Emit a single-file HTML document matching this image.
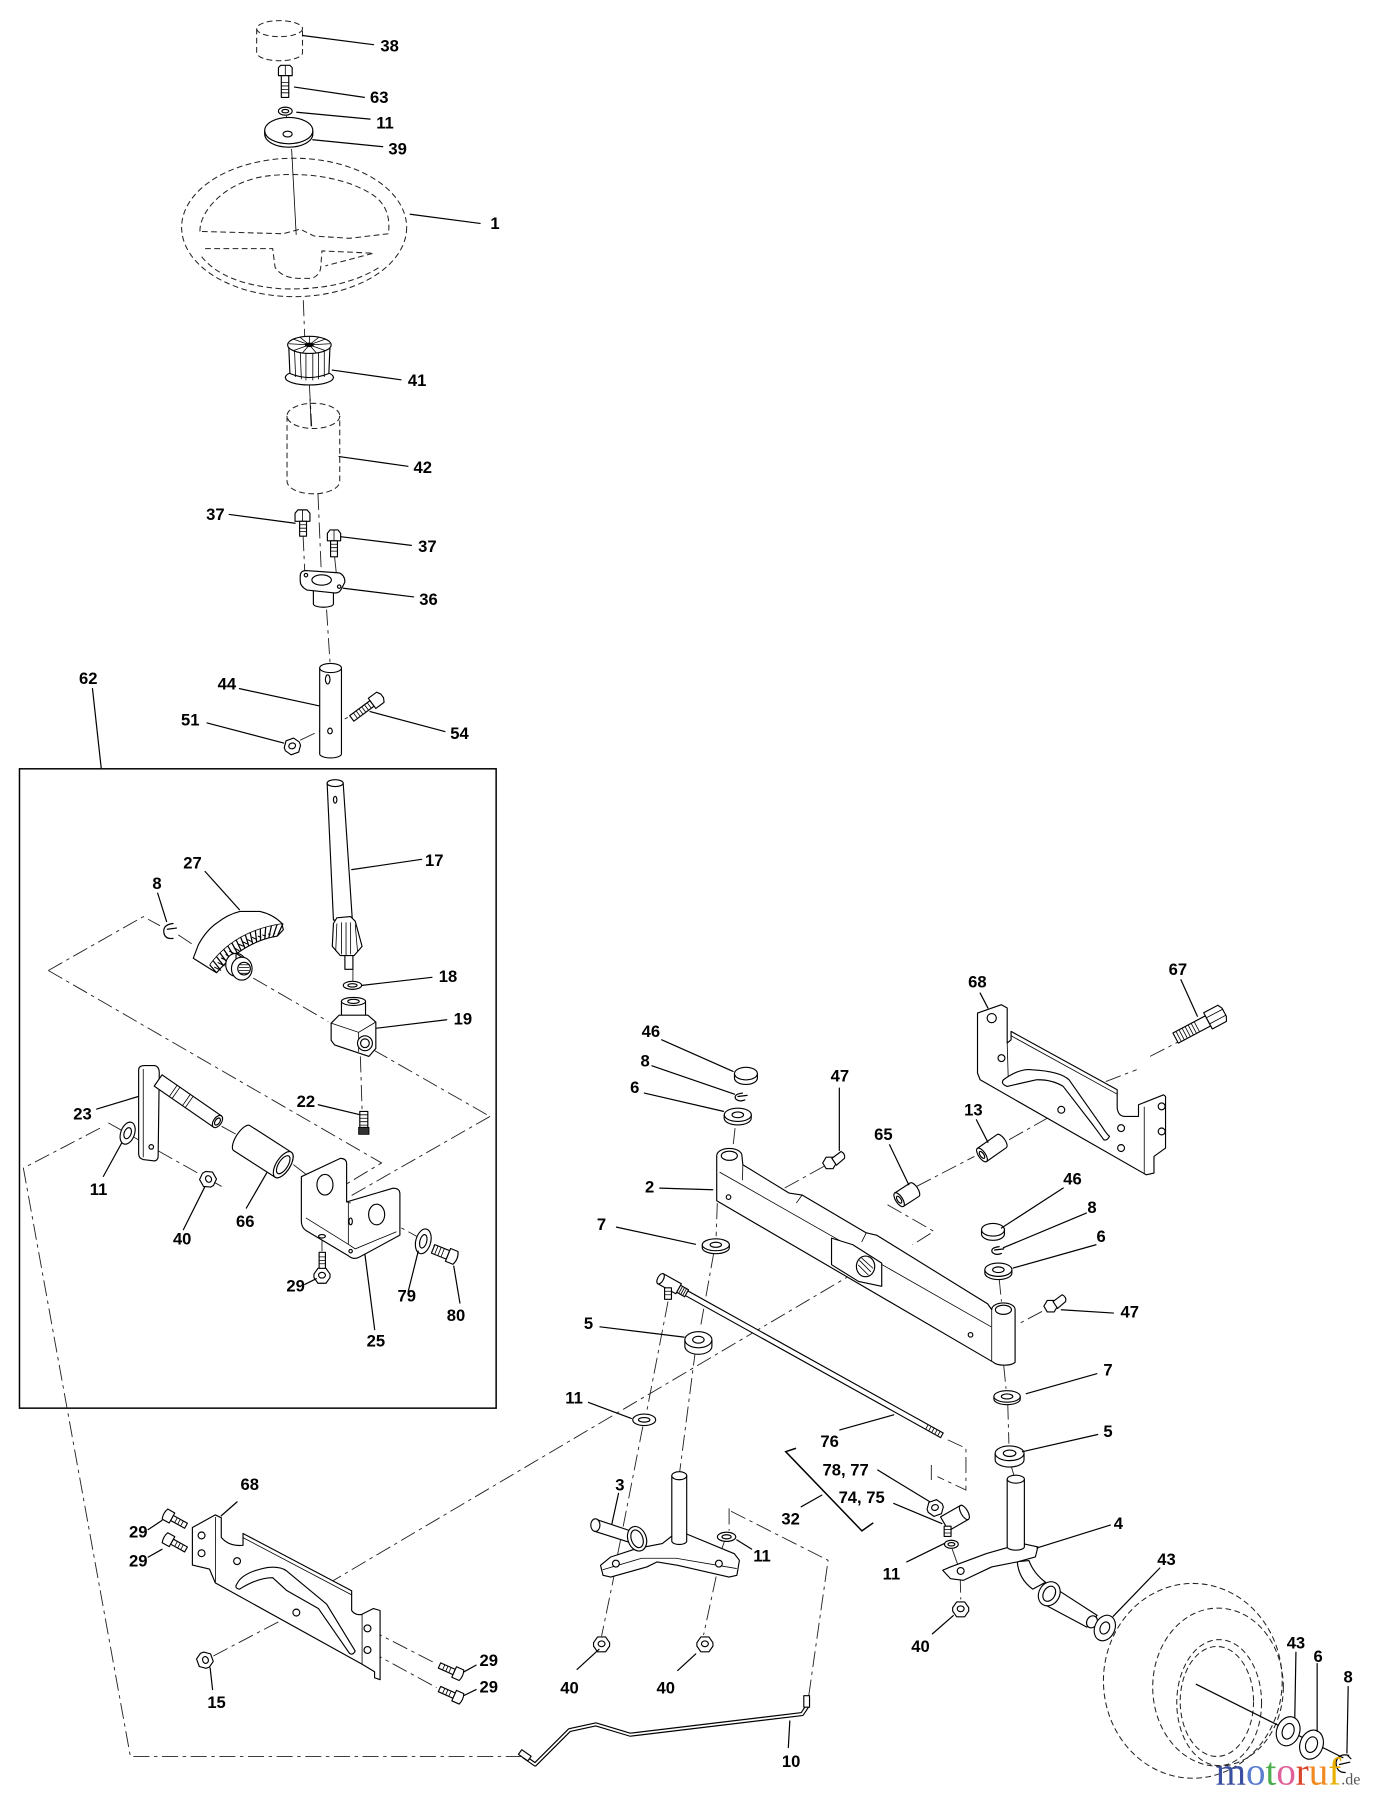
<!DOCTYPE html>
<html><head><meta charset="utf-8"><style>
html,body{margin:0;padding:0;background:#fff;}
svg{display:block}
text{font-family:"Liberation Sans",Arial,sans-serif;font-weight:bold;font-size:14.5px;fill:#000;text-anchor:middle}
.p{fill:#fff;stroke:#000;stroke-width:1;stroke-linejoin:round}
.ph{fill:none;stroke:#222;stroke-width:.9;stroke-dasharray:5 3}
.ax{fill:none;stroke:#222;stroke-width:.8;stroke-dasharray:14 4 3 4}
.l{fill:none;stroke:#000;stroke-width:1.05;stroke-linecap:round}
.t{fill:none;stroke:#000;stroke-width:.7}
</style></head><body>
<svg width="1375" height="1800" viewBox="0 0 1200 1571" preserveAspectRatio="none" xmlns="http://www.w3.org/2000/svg">
<defs>
<g id="nut"><polygon class="p" points="-7,-1 -3.5,-6 3.5,-6 7,-1 7,2 3.5,7 -3.5,7 -7,2"/><ellipse class="p" cx="0" cy="0" rx="3" ry="2.5"/></g>
<g id="bolt29"><rect class="p" x="4" y="-2.5" width="14" height="5"/><path class="t" d="M8 -2.5V2.5M11 -2.5V2.5M14 -2.5V2.5"/><path class="p" d="M-3 -5 L4 -5 L4 5 L-3 5 Q-5 0 -3 -5 Z"/></g>
</defs>
<rect width="1200" height="1571" fill="#fff"/>

<!-- ===== TOP COLUMN ===== -->
<line class="ax" x1="250" y1="101" x2="250" y2="109"/>
<line class="ax" x1="264.7" y1="262" x2="266" y2="296"/>
<line class="ax" x1="270" y1="336" x2="272" y2="372"/>
<line class="ax" x1="277.5" y1="431" x2="280.5" y2="502"/>
<line class="ax" x1="285" y1="532" x2="288" y2="578"/>
<line class="ax" x1="264.5" y1="467" x2="266" y2="500"/>
<line class="ax" x1="292" y1="486" x2="294" y2="505"/>
<line class="ax" x1="262" y1="646" x2="306" y2="625"/>

<!-- 38 cap -->
<ellipse class="ph" cx="244" cy="25" rx="20" ry="7"/>
<path class="ph" d="M224 25 V46 A20 7 0 0 0 264 46 V25"/>
<!-- 63 bolt -->
<path class="p" d="M243 59 L245 57 L253 57 L255 59 L255 66 L243 66 Z"/>
<line class="t" x1="249" y1="57" x2="249" y2="66"/>
<rect class="p" x="245.5" y="66" width="6.5" height="19"/>
<path class="t" d="M245.5 72h6.5M245.5 75h6.5M245.5 78h6.5M245.5 81h6.5"/>
<!-- 11 washer -->
<ellipse class="p" cx="249" cy="97" rx="6" ry="3.5"/>
<ellipse class="p" cx="249" cy="97" rx="3" ry="1.5"/>
<!-- 39 washer -->
<path class="p" d="M231 114 V117 A21 11.5 0 0 0 273 117 V114"/>
<ellipse class="p" cx="252" cy="114" rx="21" ry="11.5"/>
<ellipse class="p" cx="251" cy="117" rx="4" ry="2.5"/>
<!-- 1 wheel -->
<ellipse class="ph" cx="256.7" cy="198.5" rx="98.2" ry="60.4"/>
<path class="ph" d="M174.5 202 C174 185 195 160 230 154 C265 149 305 155 328 172 C340 182 340 195 339 204 L305 208 L274 206 L262 200 L247 204 Z"/>
<path class="ph" d="M179 217 L238 217 L240 233 Q245 242 260 243 L272 243 Q280 240 280 232 L281 219 L326 221 L284 232"/>
<path class="ph" d="M176 224 Q195 248 245 252 Q300 254 333 232"/>
<line class="t" x1="254.5" y1="130" x2="258.5" y2="205"/>
<!-- 41 adapter -->
<ellipse class="p" cx="270" cy="329.5" rx="21" ry="6.5"/>
<path class="p" d="M252 302 L253 326 Q270 333 287 326 L288 302 Z"/>
<path class="t" d="M257 305 L258 329 M262 306 L263 331 M267 307 L267 332 M273 307 L273 332 M278 306 L278 331 M283 305 L283 329"/>
<ellipse class="p" cx="270" cy="301" rx="19" ry="7.5"/>
<path class="t" d="M270 301 L252 300 M270 301 L256 296 M270 301 L262 294.5 M270 301 L270 293.5 M270 301 L278 294.5 M270 301 L284 296 M270 301 L288 300 M270 301 L284 306 M270 301 L256 306 M270 301 L264 308 M270 301 L276 308"/>
<ellipse cx="270" cy="301" rx="4" ry="2" fill="#000"/>
<!-- 42 sleeve -->
<ellipse class="ph" cx="273.5" cy="363" rx="23" ry="11"/>
<path class="ph" d="M250.5 363 V420 A23 11 0 0 0 296.5 420 V363"/>
<line class="t" x1="270.5" y1="348" x2="271.5" y2="372"/>
<!-- 37 bolts -->
<path class="p" d="M257.5 448 L260 445 L268 445 L270.5 448 L270.5 455 L257.5 455 Z"/>
<line class="t" x1="264" y1="445" x2="264" y2="455"/>
<rect class="p" x="261.5" y="455" width="6" height="13"/>
<path class="t" d="M261.5 458h6M261.5 461h6M261.5 464h6"/>
<path class="p" d="M285.7 465.5 L288 462.5 L295 462.5 L297.3 465.5 L297.3 472 L285.7 472 Z"/>
<line class="t" x1="291.5" y1="462.5" x2="291.5" y2="472"/>
<rect class="p" x="288.5" y="472" width="6" height="14"/>
<path class="t" d="M288.5 475h6M288.5 478h6M288.5 481h6"/>
<!-- 36 flange -->
<path class="p" d="M273.5 512 V527 A8.75 3 0 0 0 291 527 V512 Z"/>
<path class="p" d="M262 503 Q262 498 267 498 L296 500 Q301 502 301 508 L298 514 Q296 518 292 517.5 L268 515 Q262 512 262 507 Z"/>
<ellipse class="p" cx="280.7" cy="506.2" rx="8.5" ry="4.5"/>
<circle class="p" cx="267" cy="502" r="1.5"/><circle class="p" cx="296" cy="512" r="1.5"/>
<!-- 44 shaft -->
<path class="p" d="M279 583 V658 A9.5 3.5 0 0 0 298 658 V583 Z"/>
<ellipse class="p" cx="288.5" cy="583" rx="9.5" ry="4"/>
<ellipse class="p" cx="286" cy="593" rx="2" ry="4"/>
<ellipse class="p" cx="288" cy="638" rx="2" ry="2.5"/>
<!-- 51 nut -->
<g transform="translate(255,651) rotate(-20)"><use href="#nut"/></g>
<!-- 54 bolt -->
<g transform="translate(307,627) rotate(-36.5)">
<rect class="p" x="0" y="-3" width="22" height="6"/>
<path class="t" d="M4 -3V3M7 -3V3M10 -3V3M13 -3V3M16 -3V3M19 -3V3"/>
<path class="p" d="M22 -5.5 L31 -5.5 L33 -2 L33 2 L31 5.5 L22 5.5 Z"/>
</g>

<!-- leaders top -->
<g class="l">
<line x1="264" y1="31" x2="326" y2="39"/>
<line x1="257" y1="76" x2="318" y2="85"/>
<line x1="259" y1="98" x2="323" y2="104"/>
<line x1="273" y1="122" x2="334" y2="128"/>
<line x1="358" y1="187" x2="419" y2="195"/>
<line x1="290" y1="323" x2="350" y2="331.5"/>
<line x1="296" y1="398.5" x2="356" y2="407"/>
<line x1="200" y1="449" x2="257.5" y2="456.7"/>
<line x1="297.3" y1="468.4" x2="359" y2="476"/>
<line x1="299.7" y1="513.4" x2="361" y2="521"/>
<line x1="209" y1="601" x2="278.3" y2="616"/>
<line x1="180.7" y1="631" x2="247.6" y2="648.5"/>
<line x1="323" y1="621" x2="388.3" y2="638.5"/>
<line x1="80.7" y1="601" x2="88.4" y2="671"/>
</g>
<text x="340" y="45">38</text>
<text x="331" y="90">63</text>
<text x="336" y="112">11</text>
<text x="347" y="135">39</text>
<text x="432" y="200">1</text>
<text x="364" y="337">41</text>
<text x="369" y="413">42</text>
<text x="188" y="454">37</text>
<text x="373" y="482">37</text>
<text x="374" y="528">36</text>
<text x="77" y="597">62</text>
<text x="198" y="602">44</text>
<text x="166" y="633">51</text>
<text x="401" y="645">54</text>

<!-- ===== BOX 62 ===== -->
<rect x="17" y="671" width="416" height="558" fill="none" stroke="#000" stroke-width="1.3"/>
<path class="ax" d="M42.2 847 L125 800 L139.6 807.9"/>
<line class="ax" x1="155.6" y1="815.9" x2="168.7" y2="824.6"/>
<line class="ax" x1="221" y1="853.7" x2="286.5" y2="891.5"/>
<line class="ax" x1="325.8" y1="916.3" x2="427.6" y2="974.4"/>
<path class="ax" d="M42.2 847 L333 1015 L303 1033"/>
<line class="ax" x1="427.6" y1="974.4" x2="305.4" y2="1044.2"/>
<line class="ax" x1="94.5" y1="980" x2="193.4" y2="1035.5"/>
<path class="ax" d="M87.3 984.6 L20.4 1019.5 L113.8 1533 L462 1533"/>
<line class="ax" x1="193.4" y1="983" x2="209.4" y2="991.8"/>
<line class="ax" x1="256" y1="1016.5" x2="267.6" y2="1025.3"/>
<line class="ax" x1="334.5" y1="1063" x2="380" y2="1088"/>
<line class="ax" x1="281" y1="1078" x2="281" y2="1093"/>
<line class="ax" x1="314.5" y1="922" x2="316" y2="969"/>
<line class="ax" x1="308" y1="846" x2="308" y2="856"/>

<!-- 17 shaft -->
<path class="p" d="M285.5 683.5 L291 803 L307.5 803 L299.5 683.5 Z"/>
<ellipse class="p" cx="292.5" cy="683.5" rx="7" ry="3"/>
<ellipse class="p" cx="292.5" cy="698" rx="1.5" ry="3"/>
<path class="p" d="M301 832 V846 H308 V832 Z"/>
<path class="p" d="M291 806 L294 801 L306 800 L310 804 L316 826 L309 834 L297 834 L290 826 Z"/>
<path class="t" d="M294 806 L293 830 M298 805 L298 833 M302 805 L302 834 M306 805 L306 833 M310 807 L312 830"/>
<!-- 18 washer -->
<ellipse class="p" cx="307.6" cy="860" rx="8" ry="3.5"/>
<ellipse class="p" cx="307.6" cy="860" rx="4" ry="1.5"/>
<!-- 19 block -->
<path class="p" d="M298 874 V888 H319 V874 Z"/>
<ellipse class="p" cx="308.5" cy="874" rx="10.5" ry="3.5"/>
<ellipse class="p" cx="308.5" cy="874" rx="5" ry="1.8"/>
<path class="p" d="M289 893 L296 886 L321 886 L328 892 L328 915 L322 922 L292 912 L289 908 Z"/>
<path class="t" d="M289 893 L313 901 L328 892 M313 901 L313 918"/>
<circle class="p" cx="318.5" cy="910.5" r="6.5"/>
<circle class="p" cx="318.5" cy="910.5" r="3.8"/>
<!-- 22 screw -->
<rect class="p" x="314" y="970" width="7" height="14"/>
<path class="t" d="M314 973h7M314 976h7M314 979h7M314 982h7"/>
<path d="M313 984 h9 v6 h-9 z" fill="#333" stroke="#000" stroke-width=".8"/>
<!-- 27 gear -->
<path class="p" d="M168.7 836.3 L173.1 824.6 Q180 812 189.1 805.7 Q199 798 209.4 795.5 L226.9 795.5 Q238 798 245.8 805.7 L247.3 811.5 L242 817 Q212 822 189 849 L184.7 846.4 Z"/>
<path class="t" d="M183 842 Q205 812 247 806"/>
<path d="M183 842 L189 849 M185.8 838.3 L191.8 845.7 M188.9 834.9 L194.9 842.5 M191.9 831.6 L197.9 839.7 M195.2 828.5 L200.9 837 M198.7 825.5 L204 834.2 M202.3 822.9 L207.2 831.9 M206.1 820.4 L210.4 829.6 M210 818 L213.75 827.5 M214.1 815.9 L217.1 825.6 M218.3 813.9 L220.5 823.9 M222.8 812.1 L224 822.2 M227.2 810.5 L227.4 821 M231.9 809 L231.1 819.7 M236.9 807.9 L234.6 818.5 M241.8 806.9 L238.2 817.7 M247 806 L242 817" fill="none" stroke="#000" stroke-width="1.1"/>
<path d="M187 844 L193 847 M190 840 L196 843 M193 836 L199 839 M197 833 L202 836 M200 830 L206 833 M204 827 L209 830 M208 824 L213 826 M212 822 L216 824 M216 820 L220 822 M220 818 L224 820 M225 817 L228 818 M229 816 L232 817 M234 815 L236 816 M239 814 L240 815" fill="none" stroke="#000" stroke-width=".9"/>
<ellipse class="p" cx="206" cy="842" rx="9" ry="10"/>
<path class="p" d="M206 832 L211 835.4 L211 855.4 L206 852 Z" stroke-width=".1"/>
<ellipse class="p" cx="211" cy="845.4" rx="9" ry="10"/>
<circle class="p" cx="213" cy="845.4" r="5.5"/>
<path class="t" d="M209 842h8M208.5 844.5h9M208.5 847h9M209 849.5h8"/>
<!-- 8 clip -->
<path class="l" d="M151 806 Q142 807 143 814 Q144 820 151 819 M146 811 L154 810"/>
<!-- 23 arm -->
<path class="p" d="M121 934 Q121 930 126 930 L135 930 Q139 931 139 936 L138 1010 Q137 1014 133 1013 L125 1012 Q121 1011 121 1007 Z"/>
<line class="t" x1="125" y1="933" x2="125" y2="1010"/>
<circle class="p" cx="132" cy="1001" r="2"/>
<g transform="translate(138,943) rotate(34.7)">
<rect class="p" x="0" y="-6" width="63" height="12"/>
<path class="t" d="M16 -6 V6 M19 -6 V6 M30 -6 V6 M33 -6 V6"/>
<ellipse class="p" cx="63" cy="0" rx="3.5" ry="6"/>
<ellipse class="p" cx="63" cy="0" rx="2" ry="3.5"/>
</g>
<!-- 11 washer -->
<g transform="translate(111.4,989) rotate(20)"><ellipse class="p" rx="6" ry="10"/><ellipse class="p" rx="3" ry="5"/></g>
<!-- 40 nut -->
<g transform="translate(182,1029) rotate(60)"><use href="#nut"/></g>
<!-- 66 sleeve -->
<g transform="translate(211,993.3) rotate(32.7)">
<path class="p" d="M0 -13 L43 -13 A6 13 0 0 1 43 13 L0 13 A5 13 0 0 1 0 -13 Z"/>
<ellipse class="p" cx="43" cy="0" rx="6" ry="13"/>
<ellipse class="p" cx="43" cy="0" rx="4" ry="9"/>
</g>
<!-- 25 bracket -->
<path class="p" d="M263 1027 L297 1011 Q302.5 1011 302.5 1016 L302.5 1049 L343 1037 Q349 1037 349 1042 L349 1078 L314 1097 Q309 1100 304 1096 L267 1074 Q263 1071 263 1066 Z"/>
<path class="t" d="M267 1063 L304 1086 L304 1050 M304 1086 L310 1090 L346 1075 M302.5 1049 L306 1050"/>
<ellipse class="p" cx="283.6" cy="1034" rx="7" ry="9"/>
<ellipse class="p" cx="328.7" cy="1060" rx="7" ry="9"/>
<ellipse class="p" cx="281" cy="1079" rx="3" ry="1.5"/>
<ellipse class="p" cx="306" cy="1066" rx="1.5" ry="3"/>
<circle class="p" cx="306" cy="1092" r="1.5"/>
<!-- 29 bolt -->
<rect class="p" x="278.5" y="1093" width="5.5" height="15"/>
<path class="t" d="M278.5 1097h5.5M278.5 1100h5.5M278.5 1103h5.5"/>
<g transform="translate(281,1113)"><use href="#nut"/></g>
<!-- 79 washer -->
<g transform="translate(369.4,1083.4) rotate(15)"><ellipse class="p" rx="6.5" ry="11"/><ellipse class="p" rx="3" ry="6"/></g>
<!-- 80 bolt -->
<g transform="translate(378,1090) rotate(22)">
<rect class="p" x="0" y="-4" width="14" height="8"/>
<path class="t" d="M3 -4V4M6 -4V4M9 -4V4"/>
<path class="p" d="M14 -6 L21 -6 Q24 0 21 6 L14 6 Z"/>
</g>

<g class="l">
<line x1="307" y1="759" x2="368" y2="750"/>
<line x1="179" y1="760.6" x2="209" y2="794"/>
<line x1="137.6" y1="779.5" x2="145.4" y2="804.3"/>
<line x1="316" y1="860" x2="377" y2="853"/>
<line x1="328.7" y1="897.4" x2="389.8" y2="890"/>
<line x1="277.8" y1="964.2" x2="314" y2="972.9"/>
<line x1="84.4" y1="968" x2="120.7" y2="957"/>
<line x1="90.2" y1="1026.7" x2="106.2" y2="997.6"/>
<line x1="160" y1="1073.3" x2="178.9" y2="1035.5"/>
<line x1="215" y1="1054.4" x2="232.7" y2="1023.8"/>
<line x1="266" y1="1121" x2="276" y2="1116"/>
<line x1="356.3" y1="1127" x2="365" y2="1092"/>
<line x1="401.4" y1="1137.3" x2="396" y2="1105"/>
<line x1="327" y1="1160.5" x2="318.5" y2="1095"/>
</g>
<text x="379" y="756">17</text>
<text x="168" y="758">27</text>
<text x="137" y="776">8</text>
<text x="391" y="857">18</text>
<text x="404" y="894">19</text>
<text x="267" y="966">22</text>
<text x="72" y="977">23</text>
<text x="86" y="1043">11</text>
<text x="159" y="1086">40</text>
<text x="214" y="1071">66</text>
<text x="258" y="1127">29</text>
<text x="355" y="1136">79</text>
<text x="398" y="1153">80</text>
<text x="328" y="1175">25</text>

<!-- ===== RIGHT AXLE AREA ===== -->
<line class="ax" x1="641.5" y1="984.6" x2="639.8" y2="1000"/>
<line class="ax" x1="719" y1="1018" x2="682" y2="1038.4"/>
<line class="ax" x1="799.9" y1="1035.5" x2="850.4" y2="1009.3"/>
<line class="ax" x1="880.7" y1="994.7" x2="924.5" y2="970"/>
<path class="ax" d="M774.6 1051.5 L815 1074.7 L796.5 1086.4"/>
<line class="ax" x1="1003.7" y1="922" x2="1029" y2="909"/>
<line class="ax" x1="965" y1="944" x2="992" y2="933.6"/>
<line class="ax" x1="872" y1="1116" x2="874" y2="1136"/>
<line class="ax" x1="909.4" y1="1144.6" x2="887.5" y2="1156.2"/>
<line class="ax" x1="749.6" y1="1108.6" x2="290" y2="1380"/>
<line class="ax" x1="626" y1="1050" x2="625" y2="1079"/>
<line class="ax" x1="623" y1="1093" x2="611" y2="1160"/>
<line class="ax" x1="607" y1="1178" x2="593" y2="1286"/>
<line class="ax" x1="583" y1="1136" x2="564" y2="1234"/>
<line class="ax" x1="561" y1="1245" x2="538" y2="1362"/>
<line class="ax" x1="537" y1="1370" x2="525" y2="1428"/>
<line class="ax" x1="636.3" y1="1316.5" x2="636.3" y2="1336"/>
<path class="ax" d="M638 1319 L722.7 1361.8 L705.8 1480"/>
<line class="ax" x1="632" y1="1346" x2="627" y2="1360"/>
<line class="ax" x1="625" y1="1376" x2="614" y2="1427"/>
<path class="ax" d="M827.2 1256.7 L843 1264 L843 1300.5 L818.2 1288.8"/>
<line class="ax" x1="812.8" y1="1278.6" x2="812.8" y2="1291.7"/>
<line class="ax" x1="876" y1="1192" x2="878" y2="1212"/>
<line class="ax" x1="879.5" y1="1225" x2="880.5" y2="1260"/>
<line class="ax" x1="882" y1="1278" x2="885" y2="1288"/>
<line class="ax" x1="831" y1="1352" x2="836" y2="1366"/>
<line class="ax" x1="838" y1="1376" x2="838.5" y2="1396"/>
<line class="ax" x1="320.7" y1="1421.2" x2="381" y2="1452.2"/>
<line class="ax" x1="320.7" y1="1440.1" x2="381" y2="1472.9"/>
<line class="ax" x1="186.2" y1="1445.3" x2="255.2" y2="1409.1"/>

<!-- 46 / 8 / 6 left -->
<path class="p" d="M641 937 V941 A10 5.5 0 0 0 661 941 V937"/>
<ellipse class="p" cx="651" cy="937" rx="10" ry="5.5"/>
<path class="l" d="M648 954 Q640 955 642 959 Q645 962 650 960 M644 957 L652 956"/>
<path class="p" d="M632 973 V976 A11.8 5.8 0 0 0 655.6 976 V973"/>
<ellipse class="p" cx="643.9" cy="973" rx="11.8" ry="5.8"/>
<ellipse class="p" cx="643.9" cy="973" rx="5" ry="2.5"/>
<!-- 2 axle beam -->
<path class="p" d="M625.5 1008.7 A11 6.4 0 0 1 647.5 1008.7 L648.3 1016.6 L688.7 1041.3 L700 1043 L756 1076 L765 1078 L862 1138 L865.5 1143 A10.2 5.8 0 0 1 885.9 1143 L885.9 1189 A10.2 4 0 0 1 867 1189 L625.5 1048 Z"/>
<path class="t" d="M628 1023 L865 1158 M700 1043 L695 1050 M756 1076 L752 1084 M648.3 1016.6 L648 1030 M865.5 1143 L865.5 1188"/>
<ellipse class="p" cx="636.5" cy="1008.7" rx="7" ry="4"/>
<ellipse class="p" cx="875.7" cy="1143.1" rx="7" ry="4"/>
<path class="p" d="M725.7 1080.6 L744.3 1086.4 L769.5 1102.4 L769.5 1122.7 L749.3 1118.4 L725.7 1103.8 Z"/>
<ellipse class="p" cx="755.4" cy="1105.3" rx="8" ry="9"/>
<path class="t" d="M750 1100 L760 1110 M749 1104 L758 1113 M752 1098 L762 1107"/>
<circle class="p" cx="635.8" cy="1044.8" r="2"/>
<circle class="p" cx="847" cy="1165" r="2"/>
<!-- 47 fittings -->
<g transform="translate(724,1015)"><polygon class="p" points="-6,0 -3,-5 3,-5 6,0 3,5 -3,5"/><path class="p" d="M2 -4 L10 -10 Q14 -8 13 -4 L6 2 Z"/></g>
<g transform="translate(917,1140)"><polygon class="p" points="-6,0 -3,-5 3,-5 6,0 3,5 -3,5"/><path class="p" d="M2 -4 L10 -10 Q14 -8 13 -4 L6 2 Z"/></g>
<!-- 65 / 13 spacers -->
<g transform="translate(791.4,1042.7) rotate(-33)">
<path class="p" d="M-8 -7 L8 -7 A3 7 0 0 1 8 7 L-8 7 Z"/><ellipse class="p" cx="-8" cy="0" rx="3" ry="7"/><ellipse class="p" cx="-8" cy="0" rx="1.6" ry="3.5"/>
</g>
<g transform="translate(857,1008) rotate(-35)">
<path class="p" d="M0 -7 L21 -7 A3 7 0 0 1 21 7 L0 7 Z"/><ellipse class="p" cx="0" cy="0" rx="3" ry="7"/><ellipse class="p" cx="0" cy="0" rx="1.6" ry="3.5"/>
</g>
<!-- 68 right bracket -->
<path class="p" d="M853.1 884.2 L874 876.9 L879 879.8 L879 910.4 L882.4 907.5 L882.4 900.2 L975 951.1 L975 967.1 Q976 974.4 981.8 974.4 L993.6 974.4 L993.6 964.2 L1015.5 955.5 L1017.2 957 L1017.2 1002 L1007.1 1009.3 L1007.1 1023.8 L1000.3 1025.3 L855.4 942.4 L853.1 936.6 Z"/>
<path class="t" d="M882.4 904 L975 955 M998.6 966 L998.6 1024 M879 910.4 L880 944"/>
<path class="p" d="M875.7 942.4 Q890 932 901 933.7 Q925 935 933 942.4 L961.6 983.1 Q966 990 968.3 991.8 Q966 996 963.3 994.7 L954.8 983.1 L927.9 948.2 Q918 942 904.3 942.4 L879 948.2 Q873 946 875.7 942.4 Z"/>
<g class="p"><circle cx="865.5" cy="888.6" r="4"/><circle cx="874" cy="923.5" r="3"/><circle cx="926.2" cy="968.6" r="3"/><circle cx="978.4" cy="984.6" r="3"/><circle cx="978.4" cy="1002" r="3"/><circle cx="1013.8" cy="965.6" r="3"/><circle cx="1013.8" cy="987.5" r="3"/></g>
<!-- 67 bolt -->
<g transform="translate(1026,906) rotate(-28)">
<rect class="p" x="0" y="-5" width="32" height="10"/>
<path class="t" d="M3 -5V5M6 -5V5M9 -5V5M12 -5V5M15 -5V5M18 -5V5M21 -5V5"/>
<path class="p" d="M32 -8 L46 -8 L48 -4 L48 4 L46 8 L32 8 Z"/>
<path class="t" d="M32 -3 H48 M32 3 H48"/>
</g>
<!-- right 46 / 8 / 6 -->
<path class="p" d="M856.6 1073.3 V1077 A10 5.5 0 0 0 876.6 1077 V1073.3"/>
<ellipse class="p" cx="866.6" cy="1073.3" rx="10" ry="5.5"/>
<path class="l" d="M872 1088 Q864 1089 866 1093 Q869 1096 874 1094 M868 1091 L876 1090"/>
<path class="p" d="M859.5 1108.2 V1111 A11.8 5.8 0 0 0 883.1 1111 V1108.2"/>
<ellipse class="p" cx="871.3" cy="1108.2" rx="11.8" ry="5.8"/>
<ellipse class="p" cx="871.3" cy="1108.2" rx="5" ry="2.5"/>
<!-- 7 / 5 left -->
<path class="p" d="M612.9 1086.4 V1089 A11.8 5.2 0 0 0 636.5 1089 V1086.4"/>
<ellipse class="p" cx="624.7" cy="1086.4" rx="11.8" ry="5.2"/>
<ellipse class="p" cx="624.7" cy="1086.4" rx="5" ry="2.2"/>
<path class="p" d="M597.7 1169.3 V1175 A11.8 7 0 0 0 621.3 1175 V1169.3"/>
<ellipse class="p" cx="609.5" cy="1169.3" rx="11.8" ry="7"/>
<ellipse class="p" cx="609.5" cy="1169.3" rx="5" ry="3"/>
<!-- 76 tie rod -->
<g transform="translate(580,1118) rotate(29.1)">
<rect class="p" x="20" y="-2.3" width="257" height="4.6"/>
<path class="t" d="M262 -2.3V2.3M265 -2.3V2.3M268 -2.3V2.3M271 -2.3V2.3M274 -2.3V2.3"/>
<rect class="p" x="14" y="-3.5" width="8" height="7"/>
<path class="t" d="M16 -3.5V3.5M18 -3.5V3.5M20 -3.5V3.5"/>
<path class="p" d="M-4 -5 L14 -5 L14 5 L-4 5 Z"/>
<ellipse class="p" cx="-4" cy="0" rx="2.5" ry="5"/>
</g>
<rect class="p" x="580" y="1124" width="6" height="10"/>
<path class="t" d="M580 1127h6M580 1130h6"/>
<!-- 11 mid washer -->
<ellipse class="p" cx="562.2" cy="1239.2" rx="10" ry="5"/>
<ellipse class="p" cx="562.2" cy="1239.2" rx="5" ry="2"/>
<!-- 3 spindle -->
<path class="p" d="M520 1326 L556 1338 L552 1347 L519 1336.5 Z"/>
<ellipse class="p" cx="519.6" cy="1331.1" rx="4" ry="5.5"/>
<path class="p" d="M524.1 1366.2 L533 1358.9 L555.5 1351.6 L578 1347.2 L589.2 1338.4 L598.2 1338.4 L640.8 1356 L645.3 1361.8 L643.1 1374.9 L636.3 1376.4 L591.4 1366.2 L573.5 1363.2 L564.5 1367.6 L533 1376.4 L526.3 1374.9 Z"/>
<path class="t" d="M526 1370 L560 1360 L590 1360 L643 1369"/>
<g transform="translate(556,1343) rotate(-20)"><ellipse class="p" rx="8" ry="11"/><ellipse class="p" rx="5" ry="8"/></g>
<path class="p" d="M586.3 1288 V1345 A6.5 3 0 0 0 599.3 1345 V1288 Z"/>
<ellipse class="p" cx="592.8" cy="1288" rx="6.5" ry="3.5"/>
<circle class="p" cx="537.5" cy="1364.7" r="3"/>
<circle class="p" cx="627.4" cy="1364.7" r="3"/>
<!-- 11 washer right of 3 -->
<ellipse class="p" cx="634.1" cy="1341.3" rx="8" ry="4"/>
<ellipse class="p" cx="634.1" cy="1341.3" rx="4" ry="1.8"/>
<!-- 40 nuts -->
<g transform="translate(525,1434.7)"><use href="#nut"/></g>
<g transform="translate(615.2,1434.7)"><use href="#nut"/></g>
<!-- 32 bracket -->
<path fill="none" stroke="#000" stroke-width="1.3" d="M694.7 1264 L685.7 1267 L752.2 1336.1 L762.1 1329.1"/>
<!-- 78,77 nut and 74,75 -->
<g transform="translate(816,1315.7) rotate(-20)"><use href="#nut"/></g>
<g transform="translate(833,1325) rotate(-30)">
<path class="p" d="M-10 -7 L10 -7 L10 7 L-10 7 Z"/><ellipse class="p" cx="10" cy="0" rx="3" ry="7"/>
</g>
<rect class="p" x="824" y="1332" width="6" height="9"/>
<path class="t" d="M824 1335h6M824 1338h6"/>
<!-- 7 / 5 right -->
<path class="p" d="M867.4 1218.8 V1221 A11.5 5 0 0 0 890.4 1221 V1218.8"/>
<ellipse class="p" cx="878.9" cy="1218.8" rx="11.5" ry="5"/>
<ellipse class="p" cx="878.9" cy="1218.8" rx="5" ry="2.2"/>
<path class="p" d="M868.5 1268.4 V1274 A12.6 6.4 0 0 0 893.7 1274 V1268.4"/>
<ellipse class="p" cx="881.1" cy="1268.4" rx="12.6" ry="6.4"/>
<ellipse class="p" cx="881.1" cy="1268.4" rx="5.5" ry="2.8"/>
<!-- tire (behind parts) -->
<ellipse class="ph" cx="1041" cy="1467" rx="78" ry="85"/>
<ellipse class="ph" cx="1063" cy="1472.5" rx="57" ry="69"/>
<ellipse class="ph" cx="1064" cy="1486" rx="37" ry="55"/>
<ellipse class="ph" cx="1062" cy="1485" rx="32" ry="48"/>
<line class="l" x1="1044" y1="1470" x2="1172" y2="1534" stroke-width=".8"/>
<!-- 4 spindle -->
<path class="p" d="M887.8 1363 Q889 1378 901.3 1387 L912.5 1381 Q902 1373 898 1362 Z"/>
<path class="p" d="M923.8 1388.1 L957.5 1409.9 L948.5 1420.1 L910.3 1399.7 Z"/>
<ellipse class="p" cx="953" cy="1415.5" rx="4.5" ry="5.5" transform="rotate(30 953 1415.5)"/>
<g transform="translate(915.7,1391) rotate(30)"><ellipse class="p" rx="9" ry="11"/><ellipse class="p" rx="5" ry="7"/></g>
<path class="p" d="M822.7 1370.5 L829.5 1367.6 L860.9 1355.9 L881.1 1350.1 L892.3 1347.2 L905.8 1350.1 L903.6 1358.9 L887.8 1363.2 L865.4 1367.6 L840.7 1379.3 L829.5 1377.8 Z"/>
<circle class="p" cx="838.4" cy="1371.1" r="3"/>
<path class="p" d="M879 1291 V1350 A7.5 3 0 0 0 894 1350 V1291 Z"/>
<ellipse class="p" cx="886.5" cy="1291" rx="7.5" ry="3.5"/>
<ellipse class="p" cx="830.3" cy="1347.8" rx="6" ry="3.5"/>
<ellipse class="p" cx="830.3" cy="1347.8" rx="3" ry="1.5"/>
<g transform="translate(838.4,1404.1)"><use href="#nut"/></g>
<g transform="translate(964.2,1420.9) rotate(25)"><ellipse class="p" rx="8.7" ry="11.6"/><ellipse class="p" rx="4" ry="5.5"/></g>
<!-- washers on wheel axle -->
<g transform="translate(1124.2,1511) rotate(20)"><ellipse class="p" rx="10" ry="13"/><ellipse class="p" rx="5" ry="7"/></g>
<g transform="translate(1144.6,1522.7) rotate(20)"><ellipse class="p" rx="10" ry="13"/><ellipse class="p" rx="5" ry="7"/></g>
<path class="l" d="M1177 1532 Q1168 1530 1166 1538 Q1166 1547 1174 1547 M1169 1540 L1178 1538 M1176 1532 L1179 1535"/>
<!-- 10 link -->
<path d="M457 1533 L467 1540 L497 1510 L520 1505 L550 1514 L700 1496 L704 1490 L704 1483" fill="none" stroke="#000" stroke-width="3.6" stroke-linejoin="round"/>
<path d="M457 1533 L467 1540 L497 1510 L520 1505 L550 1514 L700 1496 L704 1490 L704 1483" fill="none" stroke="#fff" stroke-width="1.6" stroke-linejoin="round"/>
<rect class="p" x="701.5" y="1480" width="5" height="10"/>
<g transform="translate(458,1532) rotate(35)"><rect class="p" x="-5" y="-2.5" width="10" height="5"/></g>

<!-- 68 left bracket -->
<path class="p" d="M167.9 1333.2 L187.9 1322.2 L193.1 1324.6 L193.1 1341.8 Q200 1350 212.1 1348.7 L212.1 1338.4 L306.9 1388.4 L306.9 1405.6 Q310 1410 315.5 1409.1 L325.9 1403.9 L331.7 1405.6 L331.7 1466 L326.9 1464.3 L326.9 1459.1 L315.5 1452.2 L187.9 1381.5 L182.8 1369.4 L167.9 1366 Z"/>
<path class="t" d="M212.1 1342 L306.9 1392 M188 1324 L188 1381 M316 1409 L316 1452"/>
<path class="p" d="M207 1382 Q212 1372 234 1368 Q245 1367 250 1371 L285 1400 L310 1441 Q308 1445 305 1443 L278 1404 L250 1388 L238 1377 Q225 1377 209 1387 Q204 1386 207 1382 Z"/>
<g class="p"><circle cx="175.9" cy="1340.1" r="3"/><circle cx="175.9" cy="1355.6" r="3"/><circle cx="206.9" cy="1362.5" r="3"/><circle cx="258.6" cy="1407.4" r="3"/><circle cx="320.7" cy="1421.2" r="3"/><circle cx="320.7" cy="1440.1" r="3"/></g>
<!-- 29 bolts -->
<g transform="translate(146.6,1322.9) rotate(29)"><use href="#bolt29"/></g>
<g transform="translate(146.6,1343.6) rotate(29)"><use href="#bolt29"/></g>
<g transform="translate(400,1460.9) rotate(204)"><use href="#bolt29"/></g>
<g transform="translate(400,1481.5) rotate(204)"><use href="#bolt29"/></g>
<!-- 15 nut -->
<g transform="translate(179.3,1448.8) rotate(70)"><use href="#nut"/></g>

<!-- leaders right/bottom -->
<g class="l">
<line x1="577.5" y1="907.5" x2="639.8" y2="935.1"/>
<line x1="569" y1="930.2" x2="641" y2="955"/>
<line x1="562.3" y1="954" x2="631.4" y2="970"/>
<line x1="732.5" y1="949.7" x2="732.5" y2="1004"/>
<line x1="575.8" y1="1037" x2="622" y2="1038.4"/>
<line x1="776.3" y1="999.1" x2="793.1" y2="1034"/>
<line x1="852.1" y1="977.3" x2="862.2" y2="997"/>
<line x1="855.4" y1="866.7" x2="862.2" y2="879.8"/>
<line x1="1030.6" y1="855.1" x2="1045" y2="887"/>
<line x1="874" y1="1071.8" x2="927.9" y2="1036.9"/>
<line x1="875.7" y1="1089" x2="948.1" y2="1058.7"/>
<line x1="884.1" y1="1106.7" x2="956.5" y2="1086.4"/>
<line x1="926.2" y1="1143.1" x2="971.7" y2="1146"/>
<line x1="538" y1="1071" x2="607" y2="1086"/>
<line x1="523.6" y1="1158" x2="597" y2="1167"/>
<line x1="732.9" y1="1248" x2="780" y2="1234.8"/>
<line x1="513.6" y1="1224" x2="551" y2="1238"/>
<line x1="539.8" y1="1303.4" x2="534" y2="1330"/>
<line x1="643" y1="1344" x2="656" y2="1352"/>
<line x1="503.6" y1="1457" x2="522.8" y2="1439.5"/>
<line x1="591.4" y1="1458" x2="607.2" y2="1443.5"/>
<line x1="699.2" y1="1315.1" x2="717.2" y2="1304.9"/>
<line x1="766" y1="1283" x2="811.5" y2="1310.7"/>
<line x1="780" y1="1312.2" x2="822" y2="1329.7"/>
<line x1="895.6" y1="1216.4" x2="957.2" y2="1198.9"/>
<line x1="892.3" y1="1267" x2="958" y2="1252"/>
<line x1="969" y1="1331" x2="905" y2="1351"/>
<line x1="791.3" y1="1363.2" x2="824" y2="1347.2"/>
<line x1="813.7" y1="1426" x2="832" y2="1410"/>
<line x1="971.5" y1="1410.7" x2="1012.2" y2="1368.5"/>
<line x1="1131" y1="1442" x2="1130" y2="1499"/>
<line x1="1149.5" y1="1452" x2="1149.5" y2="1511"/>
<line x1="1176.6" y1="1472" x2="1175.5" y2="1530"/>
<line x1="688" y1="1525.2" x2="689.3" y2="1502"/>
<line x1="206.9" y1="1310.8" x2="193.1" y2="1322.9"/>
<line x1="129.3" y1="1335" x2="141.4" y2="1327"/>
<line x1="129.3" y1="1359" x2="141.4" y2="1352.2"/>
<line x1="405" y1="1459.1" x2="415.5" y2="1453.3"/>
<line x1="405" y1="1479.8" x2="415.5" y2="1474.6"/>
<line x1="185.5" y1="1474.6" x2="183.4" y2="1455.7"/>
</g>

<text x="568" y="905">46</text>
<text x="563" y="931">8</text>
<text x="554" y="954">6</text>
<text x="733" y="944">47</text>
<text x="567" y="1041">2</text>
<text x="771" y="995">65</text>
<text x="849.5" y="973.5">13</text>
<text x="853" y="862">68</text>
<text x="1028" y="851">67</text>
<text x="936" y="1034">46</text>
<text x="953" y="1058.5">8</text>
<text x="961" y="1084">6</text>
<text x="986" y="1150">47</text>
<text x="525" y="1073.5">7</text>
<text x="513.6" y="1160">5</text>
<text x="724" y="1263">76</text>
<text x="501" y="1225">11</text>
<text x="541" y="1301">3</text>
<text x="665" y="1363">11</text>
<text x="497" y="1478">40</text>
<text x="581" y="1478">40</text>
<text x="690" y="1330.5">32</text>
<text x="738" y="1288">78, 77</text>
<text x="752" y="1312">74, 75</text>
<text x="967" y="1200.5">7</text>
<text x="967" y="1254">5</text>
<text x="976" y="1334.5">4</text>
<text x="778" y="1378.5">11</text>
<text x="803.4" y="1442">40</text>
<text x="1018" y="1366">43</text>
<text x="1131" y="1439">43</text>
<text x="1150.4" y="1450.5">6</text>
<text x="1176.6" y="1468.5">8</text>
<text x="690.4" y="1542">10</text>
<text x="218" y="1300.5">68</text>
<text x="120.7" y="1342">29</text>
<text x="120.7" y="1367">29</text>
<text x="426.6" y="1454">29</text>
<text x="426.6" y="1477">29</text>
<text x="189" y="1490.5">15</text>

<!-- watermark -->
<text x="1061" y="1557.5" style="font-family:'Liberation Serif',serif;font-weight:normal;font-size:34px;text-anchor:start"><tspan fill="#3b4fa0">m</tspan><tspan fill="#5a7fd0">o</tspan><tspan fill="#4cae4c">t</tspan><tspan fill="#e0609a">o</tspan><tspan fill="#d9472b">r</tspan><tspan fill="#f08a20">u</tspan><tspan fill="#e8b000">f</tspan><tspan fill="#555" font-size="14">.de</tspan></text>
</svg>
</body></html>
